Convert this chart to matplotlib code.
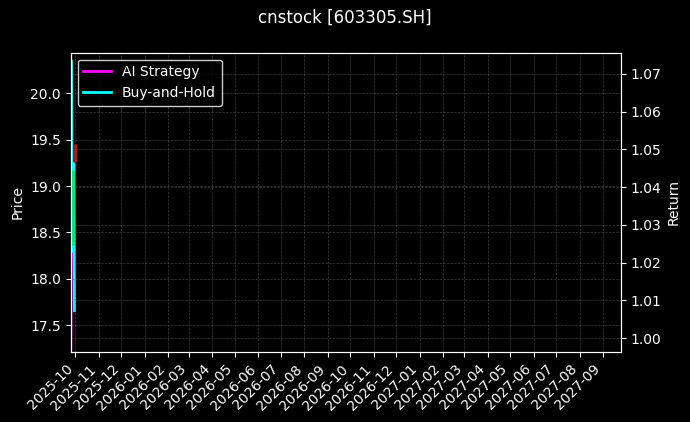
import matplotlib
matplotlib.use("Agg")
import matplotlib.pyplot as plt
import matplotlib.dates as mdates
import pandas as pd
from datetime import datetime

plt.style.use("dark_background")
plt.rcParams["font.family"] = ["DejaVu Sans"]

# --- data ---
line_dates = ["2025-09-25", "2025-09-26", "2025-09-27", "2025-09-29", "2025-09-30"]
ai_strategy = [0.9972, 1.0262, 1.0230, 1.0463, 1.0073]
buy_and_hold = [1.0735, 1.0735, 1.0230, 1.0463, 1.0073]

candle_dates = ["2025-09-27 12:00", "2025-09-30 12:00"]
candle_open = [18.36, 19.45]
candle_close = [19.17, 19.26]
candle_high = [19.17, 19.45]
candle_low = [18.36, 19.26]

title = "cnstock [603305.SH]"
x_start, x_end = datetime(2025, 9, 24, 22), datetime(2027, 9, 24, 10)

# --- figure ---
fig = plt.figure(figsize=(6.9, 4.22), dpi=100)
fig.patch.set_facecolor("black")
ax = fig.add_axes([0.1025, 0.1652, 0.7968, 0.7099])
ax2 = ax.twinx()
ax2.set_facecolor("black")
ax.set_zorder(ax2.get_zorder() + 1)
ax.patch.set_visible(False)

ld = pd.to_datetime(line_dates)
h1, = ax2.plot(ld, ai_strategy, color="#ff00ff", linewidth=2, label="AI Strategy")
h2, = ax2.plot(ld, buy_and_hold, color="#00ffff", linewidth=2, label="Buy-and-Hold")
ax2.set_ylim(0.99629, 1.0756)
ax2.set_ylabel("Return", color="white")
ax2.grid(True, color="#555555", linestyle="--", linewidth=0.5, alpha=0.7)

cd = pd.to_datetime(candle_dates)
for d, o, c, h, l in zip(cd, candle_open, candle_close, candle_high, candle_low):
    col = "#00e676" if c >= o else "#b71c1c"
    ax.vlines(d, l, h, color=col, linewidth=1)
    ax.vlines(d, min(o, c), max(o, c), color=col, linewidth=2.0)

ax.set_ylim(17.207, 20.44)
ax.set_xlim(x_start, x_end)
ax2.set_xlim(x_start, x_end)
ax.set_ylabel("Price", color="white")
ax.grid(True, color="#555555", linestyle="--", linewidth=0.5, alpha=0.7)

ax.xaxis.set_major_locator(mdates.MonthLocator())
ax.xaxis.set_major_formatter(mdates.DateFormatter("%Y-%m"))
for lbl in ax.get_xticklabels():
    lbl.set_rotation(45)
    lbl.set_ha("right")

for a in (ax, ax2):
    for s in a.spines.values():
        s.set_color("white")
    a.tick_params(colors="white")

leg = ax.legend(handles=[h1, h2], loc="upper left", facecolor="black",
                edgecolor="white", framealpha=0.8)
for t in leg.get_texts():
    t.set_color("white")

fig.text(0.5, 1 - 18 / 422, title, ha="center", va="center", fontsize=12, color="white")

fig.savefig("out.png", dpi=100, facecolor="black")
